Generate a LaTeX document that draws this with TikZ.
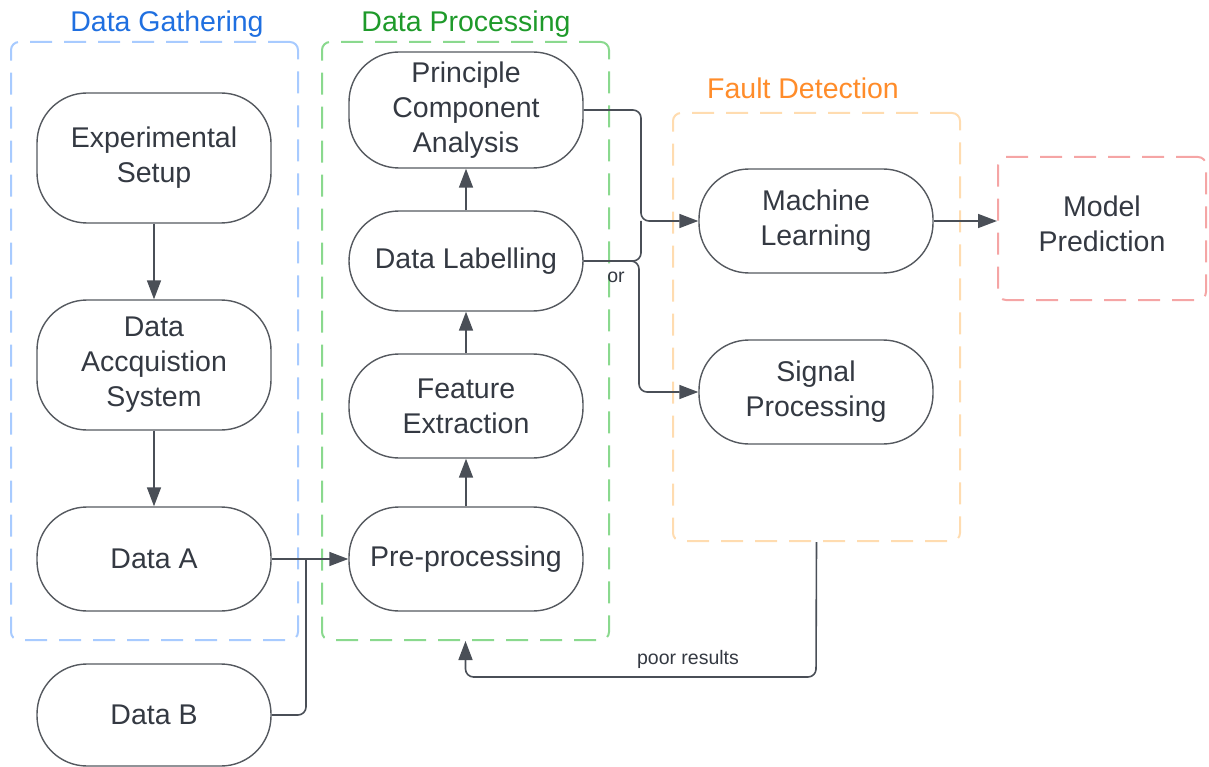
\documentclass[tikz,border=0pt]{standalone}
\usepackage{fontspec}
\setmainfont{Liberation Sans}
\usetikzlibrary{arrows.meta}
\definecolor{ink}{HTML}{343942}
\definecolor{edge}{HTML}{55595F}
\definecolor{wire}{HTML}{4A4F57}
\definecolor{blueline}{HTML}{A8CBFF}
\definecolor{greenline}{HTML}{8AD98E}
\definecolor{orangeline}{HTML}{FFDCB0}
\definecolor{redline}{HTML}{F5A5A5}
\definecolor{bluetext}{HTML}{1F6FE0}
\definecolor{greentext}{HTML}{1E9A2A}
\definecolor{orangetext}{HTML}{FF8C2A}
\tikzset{
  stepbox/.style={draw=edge, line width=1.4pt, rounded corners=50pt,
    minimum width=234pt, align=center, text=ink,
    font=\fontsize{28.5}{35}\selectfont},
  groupbox/.style={line width=2pt, dash pattern=on 22pt off 12pt,
    rounded corners=8pt, minimum width=287pt},
  grouptitle/.style={font=\fontsize{28.5}{30}\selectfont},
  wirebase/.style={draw=wire, line width=1.6pt, rounded corners=8pt},
  arr/.style={wirebase, -{Triangle[length=19pt,width=14pt]}},
  small/.style={text=ink, font=\fontsize{19.5}{22}\selectfont}
}
\begin{document}
\begin{tikzpicture}[x=1pt, y=-1pt]
\useasboundingbox (0,0) rectangle (1209,767);

% phase containers
\node[groupbox, draw=blueline, minimum height=598pt] (dg) at (154.5,341) {};
\node[groupbox, draw=greenline, minimum height=598pt] (dp) at (465.5,341) {};
\node[groupbox, draw=orangeline, minimum height=428pt] (fd) at (816.5,327) {};

\node[grouptitle, text=bluetext] (tdg) at (167,24) {Data Gathering};
\node[grouptitle, text=greentext] (tdp) at (466,24) {Data Processing};
\node[grouptitle, text=orangetext] (tfd) at (803,88) {Fault Detection};

% data gathering steps
\node[stepbox, minimum height=130pt] (es) at (154,158) {Experimental\\Setup};
\node[stepbox, minimum height=130pt] (das) at (154,365) {Data\\Accquistion\\System};
\node[stepbox, minimum height=104pt] (da) at (154,559) {Data A};
\node[stepbox, minimum height=102pt] (db) at (154,715) {Data B};

% data processing steps
\node[stepbox, minimum height=104pt] (pre) at (466,559) {Pre-processing};
\node[stepbox, minimum height=104pt] (fe) at (466,406) {Feature\\Extraction};
\node[stepbox, minimum height=100pt] (dl) at (466,261) {Data Labelling};
\node[stepbox, minimum height=116pt] (pca) at (466,110) {Principle\\Component\\Analysis};

% fault detection steps
\node[stepbox, minimum height=104pt] (ml) at (816,221) {Machine\\Learning};
\node[stepbox, minimum height=104pt] (sp) at (816,392) {Signal\\Processing};

% output
\node[groupbox, draw=redline, minimum width=208pt, minimum height=143pt] (mp) at (1102,228.5) {};
\node[align=center, text=ink, font=\fontsize{28.5}{35}\selectfont] (mpt) at (1102,224) {Model\\Prediction};

% junction points
\coordinate (jin) at (306,559);
\coordinate (jup) at (641,221);
\coordinate (jdl) at (639,261);
\coordinate (jfb) at (816,677);

% gathering flow
\draw[arr] (es) -- (das);
\draw[arr] (das) -- (da);
\draw[arr] (da.east) -- (pre.west);
\draw[wirebase] (db.east) -| (jin);

% processing flow
\draw[arr] (pre) -- (fe);
\draw[arr] (fe) -- (dl);
\draw[arr] (dl) -- (pca);

% branches into fault detection
\draw[arr] (pca.east) -| (jup) -- (ml.west);
\draw[wirebase] (dl.east) -| (jup);
\draw[arr] (dl.east) -- (jdl) |- (sp.west);
\node[small] (lor) at (616,277) {or};

% output and feedback
\draw[arr] (ml.east) -- (ml.east -| mp.west);
\draw[arr] (fd.south) -- (jfb) -| (dp.south);
\node[small] (lpoor) at (688,659) {poor results};
\end{tikzpicture}
\end{document}
